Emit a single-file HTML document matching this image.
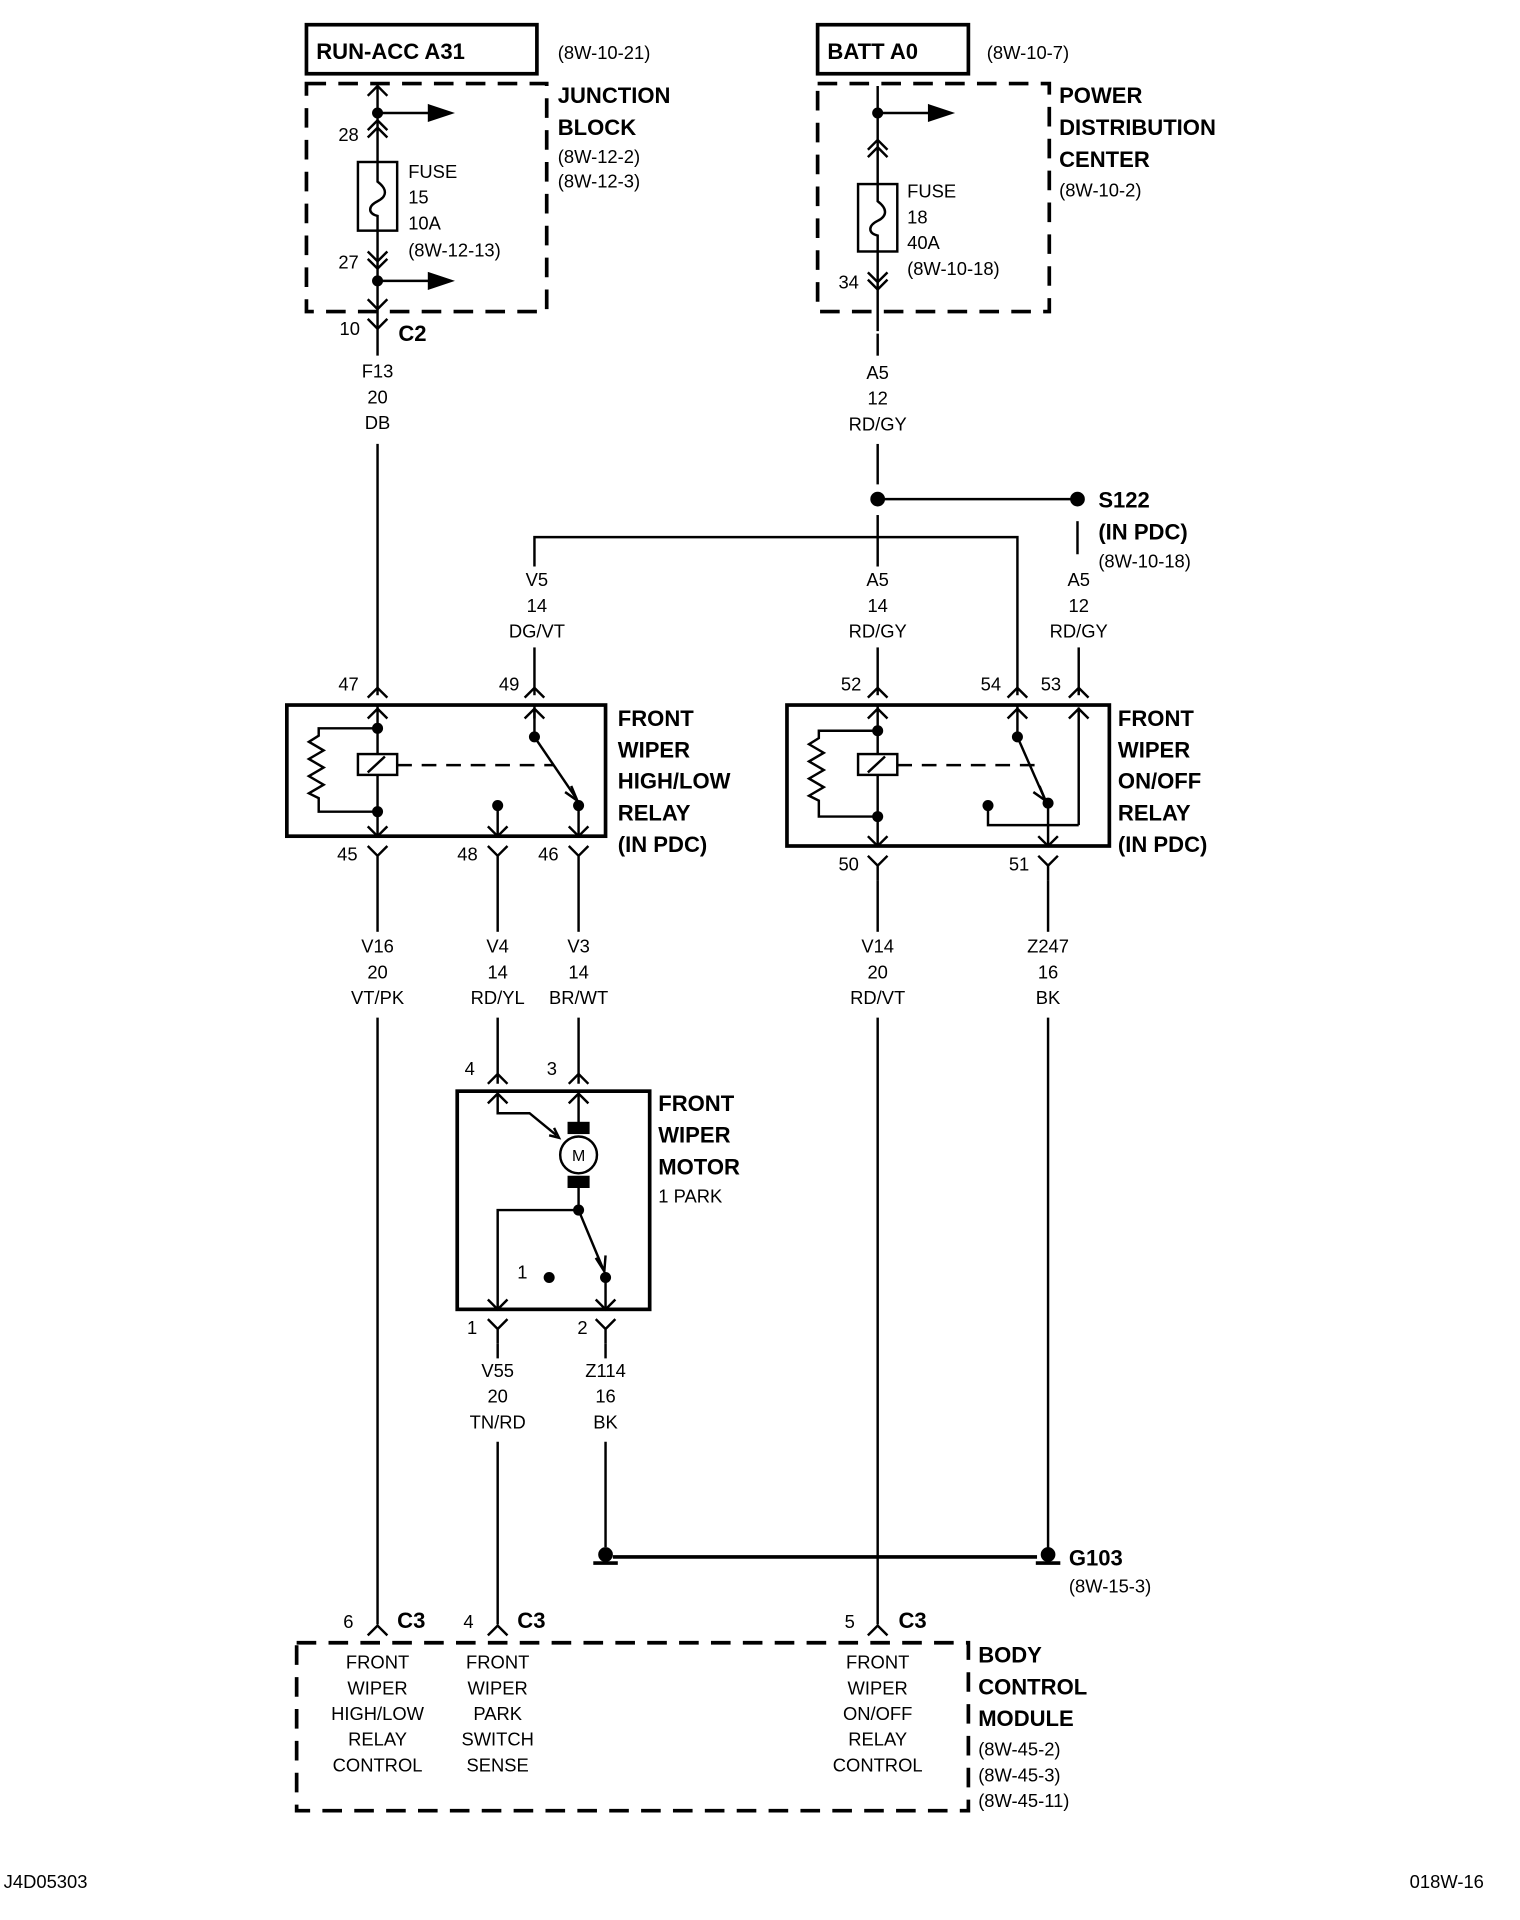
<!DOCTYPE html>
<html><head><meta charset="utf-8"><style>
html,body{margin:0;padding:0;background:#fff}
svg{display:block}
text{font-family:"Liberation Sans Narrow","Liberation Sans",sans-serif;fill:#000}
.b{font-weight:bold;font-size:18px}
.s{font-size:15px}
.c{text-anchor:middle}
</style></head><body>
<svg width="1520" height="1920" viewBox="0 0 1240 1566" xmlns="http://www.w3.org/2000/svg">
<g fill="none" stroke="#000" stroke-width="2">
<rect x="250" y="20" width="188" height="40" stroke-width="3"/>
<rect x="250" y="68" width="196" height="186" stroke-width="3" stroke-dasharray="16,10"/>
<line x1="308" y1="70" x2="308" y2="290"/>
<path d="M300 78 L308 70 L316 78"/>
<line x1="308" y1="92" x2="352" y2="92"/><path d="M350 86 L368 92 L350 98 Z" fill="#000"/>
<path d="M300 106 L308 98 L316 106 M300 112 L308 104 L316 112"/>
<rect x="292" y="132" width="32" height="56" fill="#fff"/>
<path d="M308 132 V148 C316 154 316 160 308 164 C300 168 300 174 308 176 V188"/>
<path d="M300 205 L308 213 L316 205 M300 211 L308 219 L316 211"/>
<line x1="308" y1="229" x2="352" y2="229"/><path d="M350 223 L368 229 L350 235 Z" fill="#000"/>
<path d="M300 244 L308 252 L316 244"/>
<path d="M300 260 L308 268 L316 260"/>
<rect x="667" y="20" width="123" height="40" stroke-width="3"/>
<rect x="667" y="68" width="189" height="186" stroke-width="3" stroke-dasharray="16,10"/>
<line x1="716" y1="70" x2="716" y2="270"/>
<line x1="716" y1="92" x2="760" y2="92"/><path d="M758 86 L776 92 L758 98 Z" fill="#000"/>
<path d="M708 122 L716 114 L724 122 M708 128 L716 120 L724 128"/>
<rect x="700" y="150" width="32" height="55" fill="#fff"/>
<path d="M716 150 V164 C724 170 724 176 716 180 C708 184 708 190 716 192 V205"/>
<path d="M708 222 L716 230 L724 222 M708 228 L716 236 L724 228"/>
<line x1="716" y1="272" x2="716" y2="290"/>
<line x1="716" y1="362" x2="716" y2="395"/>
<line x1="716" y1="407" x2="879" y2="407"/>
<line x1="716" y1="420" x2="716" y2="462"/>
<line x1="716" y1="528" x2="716" y2="567"/>
<line x1="879" y1="425" x2="879" y2="452"/>
<line x1="880" y1="528" x2="880" y2="567"/>
<path d="M436 462 V438 H830 V567"/>
<line x1="436" y1="528" x2="436" y2="567"/>
<line x1="308" y1="362" x2="308" y2="567"/>
<rect x="234" y="575" width="260" height="107" stroke-width="3"/>
<path d="M300 569 L308 561 L316 569 M428 569 L436 561 L444 569"/>
<line x1="308" y1="575" x2="308" y2="682"/>
<path d="M300 586 L308 578 L316 586"/>
<path d="M308 594 H260 V600 L252 605 L264 612 L252 619 L264 626 L252 633 L264 640 L252 647 L260 651 V662 H308"/>
<rect x="292" y="615" width="32" height="17" fill="#fff"/><line x1="300" y1="630" x2="314" y2="617"/>
<line x1="324" y1="624" x2="452" y2="624" stroke-dasharray="12,8"/>
<path d="M300 674 L308 682 L316 674"/>
<line x1="436" y1="575" x2="436" y2="601"/><path d="M436 601 L470 651"/><path d="M466 641 L471 653 L461 646"/>
<path d="M436 586 L436 578 M428 586 L436 578 L444 586"/>
<line x1="406" y1="657" x2="406" y2="682"/><path d="M398 674 L406 682 L414 674"/>
<line x1="472" y1="657" x2="472" y2="682"/><path d="M464 674 L472 682 L480 674"/>
<rect x="642" y="575" width="263" height="115" stroke-width="3"/>
<path d="M708 569 L716 561 L724 569 M822 569 L830 561 L838 569 M872 569 L880 561 L888 569"/>
<line x1="716" y1="575" x2="716" y2="690"/>
<path d="M708 586 L716 578 L724 586"/>
<path d="M716 596 H668 V602 L660 607 L672 614 L660 621 L672 628 L660 635 L672 642 L660 649 L668 653 V666 H716"/>
<rect x="700" y="615" width="32" height="17" fill="#fff"/><line x1="708" y1="630" x2="722" y2="617"/>
<line x1="732" y1="624" x2="846" y2="624" stroke-dasharray="12,8"/>
<path d="M708 682 L716 690 L724 682"/>
<line x1="830" y1="575" x2="830" y2="601"/><path d="M830 601 L852 651"/><path d="M848 641 L853 653 L843 646"/>
<path d="M822 586 L830 578 L838 586 M872 586 L880 578 L888 586"/>
<line x1="880" y1="577" x2="880" y2="673"/>
<path d="M806 657 V673 H880"/>
<line x1="855" y1="655" x2="855" y2="690"/><path d="M847 682 L855 690 L863 682"/>
<path d="M300 690 L308 698 L316 690 M308 698 V712 M398 690 L406 698 L414 690 M406 698 V712 M464 690 L472 698 L480 690 M472 698 V712 M708 698 L716 706 L724 698 M716 706 V718 M847 698 L855 706 L863 698 M855 706 V718"/>
<line x1="308" y1="712" x2="308" y2="760"/>
<line x1="406" y1="712" x2="406" y2="760"/>
<line x1="472" y1="712" x2="472" y2="760"/>
<line x1="716" y1="718" x2="716" y2="760"/>
<line x1="855" y1="718" x2="855" y2="760"/>
<line x1="308" y1="830" x2="308" y2="1325"/>
<line x1="406" y1="830" x2="406" y2="884"/>
<line x1="472" y1="830" x2="472" y2="884"/>
<line x1="716" y1="830" x2="716" y2="1325"/>
<line x1="855" y1="830" x2="855" y2="1266"/>
<path d="M398 884 L406 876 L414 884 M464 884 L472 876 L480 884"/>
<rect x="373" y="890" width="157" height="178" stroke-width="3"/>
<path d="M398 900 L406 892 L414 900 M464 900 L472 892 L480 900"/>
<path d="M406 892 V908 H432 L454 926"/>
<path d="M448 926 L456 928 L452 920"/>
<line x1="472" y1="892" x2="472" y2="918"/>
<rect x="464" y="916" width="16" height="8" fill="#000"/>
<circle cx="472" cy="942" r="15" fill="#fff"/>
<rect x="464" y="960" width="16" height="8" fill="#000"/>
<line x1="472" y1="968" x2="472" y2="987"/>
<path d="M472 987 H406 V1068"/>
<path d="M398 1060 L406 1068 L414 1060"/>
<path d="M472 987 L492 1035"/><path d="M486 1026 L493 1037 L494 1024"/>
<line x1="494" y1="1042" x2="494" y2="1068"/><path d="M486 1060 L494 1068 L502 1060"/>
<path d="M398 1076 L406 1084 L414 1076 M406 1084 V1096 M486 1076 L494 1084 L502 1076 M494 1084 V1096"/>
<line x1="406" y1="1096" x2="406" y2="1108"/>
<line x1="494" y1="1096" x2="494" y2="1108"/>
<line x1="406" y1="1176" x2="406" y2="1325"/>
<line x1="494" y1="1176" x2="494" y2="1262"/>
<line x1="500" y1="1270" x2="846" y2="1270" stroke-width="3"/>
<line x1="484" y1="1275" x2="504" y2="1275" stroke-width="3"/>
<line x1="845" y1="1275" x2="865" y2="1275" stroke-width="3"/>
<path d="M300 1334 L308 1326 L316 1334 M398 1334 L406 1326 L414 1334 M708 1334 L716 1326 L724 1334"/>
<rect x="242" y="1340" width="548" height="137" stroke-width="3" stroke-dasharray="16,10"/>
</g>
<g fill="#000">
<circle cx="308" cy="92" r="4.5"/><circle cx="308" cy="229" r="4.5"/><circle cx="716" cy="92" r="4.5"/>
<circle cx="716" cy="407" r="6"/><circle cx="879" cy="407" r="6"/>
<circle cx="308" cy="594" r="4.5"/><circle cx="308" cy="662" r="4.5"/><circle cx="436" cy="601" r="4.5"/><circle cx="406" cy="657" r="4.5"/><circle cx="472" cy="657" r="4.5"/>
<circle cx="716" cy="596" r="4.5"/><circle cx="716" cy="666" r="4.5"/><circle cx="830" cy="601" r="4.5"/><circle cx="806" cy="657" r="4.5"/><circle cx="855" cy="655" r="4.5"/>
<circle cx="472" cy="987" r="4.5"/><circle cx="494" cy="1042" r="4.5"/><circle cx="448" cy="1042" r="4.5"/>
<circle cx="494" cy="1268" r="6"/><circle cx="855" cy="1268" r="6"/>
</g>
<text class="b" x="258" y="48">RUN-ACC A31</text>
<text class="s" x="455" y="48">(8W-10-21)</text>
<text class="b" x="455" y="84">JUNCTION</text>
<text class="b" x="455" y="110">BLOCK</text>
<text class="s" x="455" y="133">(8W-12-2)</text>
<text class="s" x="455" y="153">(8W-12-3)</text>
<text class="s" x="276" y="115">28</text>
<text class="s" x="333" y="145">FUSE</text><text class="s" x="333" y="166">15</text><text class="s" x="333" y="187">10A</text><text class="s" x="333" y="209">(8W-12-13)</text>
<text class="s" x="276" y="219">27</text>
<text class="s" x="277" y="273">10</text>
<text class="b" x="325" y="278">C2</text>
<text class="s c" x="308" y="308">F13</text><text class="s c" x="308" y="329">20</text><text class="s c" x="308" y="350">DB</text>
<text class="b" x="675" y="48">BATT A0</text>
<text class="s" x="805" y="48">(8W-10-7)</text>
<text class="b" x="864" y="84">POWER</text>
<text class="b" x="864" y="110">DISTRIBUTION</text>
<text class="b" x="864" y="136">CENTER</text>
<text class="s" x="864" y="160">(8W-10-2)</text>
<text class="s" x="740" y="161">FUSE</text><text class="s" x="740" y="182">18</text><text class="s" x="740" y="203">40A</text><text class="s" x="740" y="224">(8W-10-18)</text>
<text class="s" x="684" y="235">34</text>
<text class="s c" x="716" y="309">A5</text><text class="s c" x="716" y="330">12</text><text class="s c" x="716" y="351">RD/GY</text>
<text class="b" x="896" y="414">S122</text>
<text class="b" x="896" y="440">(IN PDC)</text>
<text class="s" x="896" y="463">(8W-10-18)</text>
<text class="s c" x="438" y="478">V5</text><text class="s c" x="438" y="499">14</text><text class="s c" x="438" y="520">DG/VT</text>
<text class="s c" x="716" y="478">A5</text><text class="s c" x="716" y="499">14</text><text class="s c" x="716" y="520">RD/GY</text>
<text class="s c" x="880" y="478">A5</text><text class="s c" x="880" y="499">12</text><text class="s c" x="880" y="520">RD/GY</text>
<text class="s" x="276" y="563">47</text><text class="s" x="407" y="563">49</text>
<text class="s" x="686" y="563">52</text><text class="s" x="800" y="563">54</text><text class="s" x="849" y="563">53</text>
<text class="b" x="504" y="592">FRONT</text><text class="b" x="504" y="618">WIPER</text><text class="b" x="504" y="643">HIGH/LOW</text><text class="b" x="504" y="669">RELAY</text><text class="b" x="504" y="695">(IN PDC)</text>
<text class="b" x="912" y="592">FRONT</text><text class="b" x="912" y="618">WIPER</text><text class="b" x="912" y="643">ON/OFF</text><text class="b" x="912" y="669">RELAY</text><text class="b" x="912" y="695">(IN PDC)</text>
<text class="s" x="275" y="702">45</text><text class="s" x="373" y="702">48</text><text class="s" x="439" y="702">46</text>
<text class="s" x="684" y="710">50</text><text class="s" x="823" y="710">51</text>
<text class="s c" x="308" y="777">V16</text><text class="s c" x="308" y="798">20</text><text class="s c" x="308" y="819">VT/PK</text>
<text class="s c" x="406" y="777">V4</text><text class="s c" x="406" y="798">14</text><text class="s c" x="406" y="819">RD/YL</text>
<text class="s c" x="472" y="777">V3</text><text class="s c" x="472" y="798">14</text><text class="s c" x="472" y="819">BR/WT</text>
<text class="s c" x="716" y="777">V14</text><text class="s c" x="716" y="798">20</text><text class="s c" x="716" y="819">RD/VT</text>
<text class="s c" x="855" y="777">Z247</text><text class="s c" x="855" y="798">16</text><text class="s c" x="855" y="819">BK</text>
<text class="s" x="379" y="877">4</text><text class="s" x="446" y="877">3</text>
<text class="b" x="537" y="906">FRONT</text><text class="b" x="537" y="932">WIPER</text><text class="b" x="537" y="958">MOTOR</text>
<text class="s" x="537" y="981">1 PARK</text>
<text class="s c" x="472" y="947" style="font-size:13px">M</text>
<text class="s" x="422" y="1043">1</text>
<text class="s" x="381" y="1088">1</text><text class="s" x="471" y="1088">2</text>
<text class="s c" x="406" y="1123">V55</text><text class="s c" x="406" y="1144">20</text><text class="s c" x="406" y="1165">TN/RD</text>
<text class="s c" x="494" y="1123">Z114</text><text class="s c" x="494" y="1144">16</text><text class="s c" x="494" y="1165">BK</text>
<text class="b" x="872" y="1277">G103</text>
<text class="s" x="872" y="1299">(8W-15-3)</text>
<text class="s" x="280" y="1328">6</text><text class="b" x="324" y="1328">C3</text>
<text class="s" x="378" y="1328">4</text><text class="b" x="422" y="1328">C3</text>
<text class="s" x="689" y="1328">5</text><text class="b" x="733" y="1328">C3</text>
<text class="b" x="798" y="1356">BODY</text><text class="b" x="798" y="1382">CONTROL</text><text class="b" x="798" y="1408">MODULE</text>
<text class="s" x="798" y="1432">(8W-45-2)</text><text class="s" x="798" y="1453">(8W-45-3)</text><text class="s" x="798" y="1474">(8W-45-11)</text>
<text class="s c" x="308" y="1361">FRONT</text><text class="s c" x="308" y="1382">WIPER</text><text class="s c" x="308" y="1403">HIGH/LOW</text><text class="s c" x="308" y="1424">RELAY</text><text class="s c" x="308" y="1445">CONTROL</text>
<text class="s c" x="406" y="1361">FRONT</text><text class="s c" x="406" y="1382">WIPER</text><text class="s c" x="406" y="1403">PARK</text><text class="s c" x="406" y="1424">SWITCH</text><text class="s c" x="406" y="1445">SENSE</text>
<text class="s c" x="716" y="1361">FRONT</text><text class="s c" x="716" y="1382">WIPER</text><text class="s c" x="716" y="1403">ON/OFF</text><text class="s c" x="716" y="1424">RELAY</text><text class="s c" x="716" y="1445">CONTROL</text>
<text class="s" x="3" y="1540">J4D05303</text>
<text class="s" x="1150" y="1540">018W-16</text>
</svg>
</body></html>
